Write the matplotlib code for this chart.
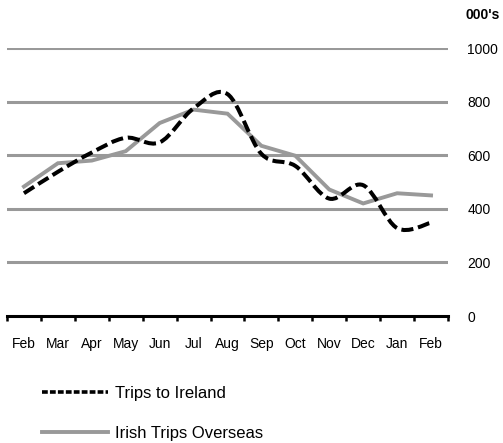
import matplotlib

matplotlib.use('Agg')
import matplotlib.pyplot as plt
from matplotlib.path import Path
from matplotlib.patches import PathPatch
from matplotlib.lines import Line2D

plt.rcParams['font.family'] = ['Liberation Sans', 'DejaVu Sans']

months = ['Feb', 'Mar', 'Apr', 'May', 'Jun', 'Jul', 'Aug', 'Sep', 'Oct', 'Nov', 'Dec', 'Jan', 'Feb']
trips_to_ireland = [458, 538, 610, 665, 648, 775, 828, 605, 560, 438, 488, 328, 348]
irish_trips_overseas = [483, 570, 580, 615, 720, 770, 755, 635, 598, 472, 420, 458, 450]
y_ticks = [0, 200, 400, 600, 800, 1000]

GREY = '#999999'
DASH = (0, (3, 1.2))


def smooth_path(xs, ys):
    # Excel style smoothed line: cubic bezier through every point
    pts = list(zip(xs, ys))
    n = len(pts)
    verts = [pts[0]]
    codes = [Path.MOVETO]
    for i in range(n - 1):
        p0 = pts[i - 1] if i > 0 else pts[i]
        p1 = pts[i]
        p2 = pts[i + 1]
        p3 = pts[i + 2] if i + 2 < n else pts[i + 1]
        c1 = (p1[0] + (p2[0] - p0[0]) / 6, p1[1] + (p2[1] - p0[1]) / 6)
        c2 = (p2[0] - (p3[0] - p1[0]) / 6, p2[1] - (p3[1] - p1[1]) / 6)
        verts += [c1, c2, p2]
        codes += [Path.CURVE4] * 3
    return Path(verts, codes)


def main():
    fig = plt.figure(figsize=(5.03, 4.43), dpi=100)
    ax = fig.add_axes([7 / 503, (443 - 316) / 443, 441 / 503, 268 / 443])

    x = list(range(len(months)))

    # grid lines
    for v in y_ticks[1:]:
        ax.axhline(v, color=GREY, lw=2.2, zorder=1)

    ax.plot(x, irish_trips_overseas, color=GREY, lw=2.8, zorder=3, solid_joinstyle='miter')
    patch = PathPatch(smooth_path(x, trips_to_ireland), fill=False, edgecolor='black', lw=2.9,
                      linestyle=DASH, capstyle='butt', zorder=4)
    ax.add_patch(patch)

    ax.set_xlim(-0.5, len(months) - 0.5)
    ax.set_ylim(0, 1000)

    for s in ['top', 'left', 'right']:
        ax.spines[s].set_visible(False)
    ax.spines['bottom'].set_linewidth(2.2)
    ax.spines['bottom'].set_zorder(5)

    # category boundaries carry tick marks, labels sit in the middle
    ax.set_xticks([i - 0.5 for i in range(len(months) + 1)])
    ax.set_xticklabels([])
    ax.tick_params(axis='x', which='major', direction='out', length=3.5, width=1.8, color='black')
    ax.set_xticks(x, minor=True)
    ax.set_xticklabels(months, minor=True, fontsize=10)
    ax.tick_params(axis='x', which='minor', length=0, pad=15)

    ax.yaxis.tick_right()
    ax.set_yticks(y_ticks)
    ax.tick_params(axis='y', length=0, pad=14, labelsize=10)

    fig.text(500 / 503, 1 - 15 / 443, "000's", ha='right', va='center', fontsize=10, fontweight='bold')

    handles = [Line2D([], [], color='black', lw=2.6, linestyle=(0, (1.6, 0.6))),
               Line2D([], [], color=GREY, lw=2.8)]
    fig.legend(handles, ['Trips to Ireland', 'Irish Trips Overseas'], loc='upper left',
               bbox_to_anchor=(42 / 503, 1 - 386 / 443), frameon=False, fontsize=12,
               handlelength=3.95, handletextpad=0.4, labelspacing=1.5, borderpad=0, borderaxespad=0)

    plt.savefig('out.png', dpi=100)


if __name__ == '__main__':
    main()
